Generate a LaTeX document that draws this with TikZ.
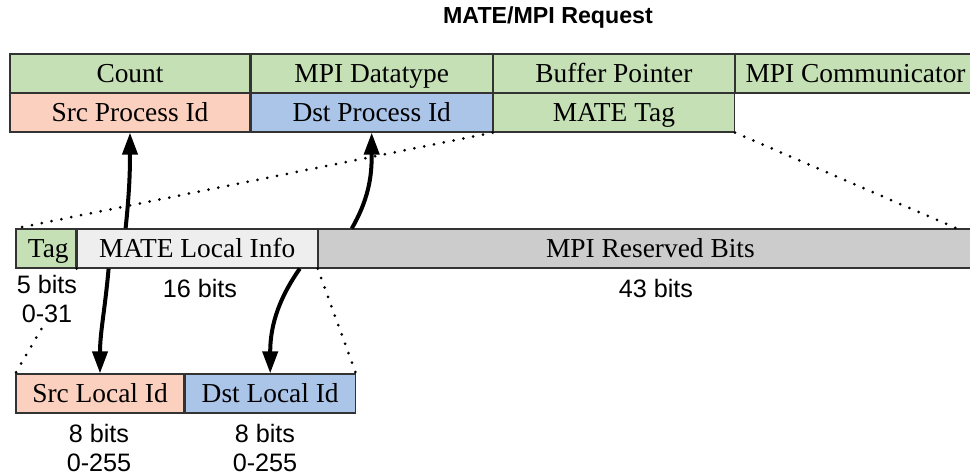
\documentclass[tikz,border=0pt]{standalone}
\usepackage{fontspec}
\setmainfont{Liberation Serif}
\setsansfont{Liberation Sans}
\usetikzlibrary{arrows.meta,chains,positioning}

\definecolor{fgreen}{HTML}{C5E0B4}
\definecolor{fpeach}{HTML}{FBD0BE}
\definecolor{fblue}{HTML}{ABC5E9}
\definecolor{flight}{HTML}{EEEEEE}
\definecolor{fgrey}{HTML}{CCCCCC}

\newcommand{\fstrut}{\rule[-3pt]{0pt}{15pt}}

\tikzset{
  field/.style={draw=black!80,line width=0.6pt,minimum height=19.5pt,inner sep=0pt,
    font=\fontsize{13.7}{16}\selectfont},
  bits/.style={font=\sffamily\fontsize{12.6}{14.5}\selectfont,align=center,inner sep=1pt},
  zoomline/.style={line width=1.5pt,dash pattern=on 0pt off 5pt,line cap=round},
  bigarrow/.style={line width=2pt,-{Triangle[length=11pt,width=7.5pt]}}
}

\begin{document}
\begin{tikzpicture}[x=0.5pt,y=-0.5pt]
\useasboundingbox (0,0) rectangle (970,476);

\node[font=\sffamily\bfseries\fontsize{11.6}{14}\selectfont] (title) at (548,18) {MATE/MPI Request};

% request fields
\begin{scope}[shift={(130,73.5)},start chain=going right,node distance=0pt]
\def\reqrow{1/120pt/fgreen/{Count},2/120.5pt/fgreen/{MPI Datatype},3/120.5pt/fgreen/{Buffer Pointer},4/120pt/fgreen/{MPI Communicator}}
\foreach \i / \w / \c / \element in \reqrow
  \node [field,on chain,fill=\c,minimum width=\w] (req\i) {\fstrut\element};
\end{scope}

\begin{scope}[shift={(130,112.5)},start chain=going right,node distance=0pt]
\def\idrow{1/120pt/fpeach/{Src Process Id},2/120.5pt/fblue/{Dst Process Id},3/120.5pt/fgreen/{MATE Tag}}
\foreach \i / \w / \c / \element in \idrow
  \node [field,on chain,fill=\c,minimum width=\w] (id\i) {\fstrut\element};
\end{scope}

% tag layout
\begin{scope}[shift={(46,248.5)},start chain=going right,node distance=0pt]
\def\tagrow{1/30pt/fgreen/{\,Tag},2/120pt/flight/{MATE Local Info},3/332pt/fgrey/{MPI Reserved Bits}}
\foreach \i / \w / \c / \element in \tagrow
  \node [field,on chain,fill=\c,minimum width=\w] (m\i) {\fstrut\element};
\end{scope}

% local info
\begin{scope}[shift={(100,393.5)},start chain=going right,node distance=0pt]
\def\locrow{1/84pt/fpeach/{Src Local Id},2/85pt/fblue/{Dst Local Id}}
\foreach \i / \w / \c / \element in \locrow
  \node [field,on chain,fill=\c,minimum width=\w] (l\i) {\fstrut\element};
\end{scope}

\coordinate (mend) at (958,229);
\draw[zoomline] (id3.south west) -- (m1.north west);
\draw[zoomline] (id3.south east) -- (mend);
\draw[zoomline] (m1.south east) -- (l1.north west);
\draw[zoomline] (m2.south east) -- (l2.north east);

\node[bits,fill=white] (tagbits) at (47,299) {5 bits\\0-31};
\node[bits] (infobits) at (200,288) {16 bits};
\node[bits] (resvbits) at (656,288) {43 bits};
\node[bits] (srcbits) at (99,448) {8 bits\\0-255};
\node[bits] (dstbits) at (265,448) {8 bits\\0-255};

\draw[bigarrow] ([xshift=24.5pt]m2.north west) to[out=84,in=-90] (id1.south);
\draw[bigarrow] ([xshift=17pt]m3.north west) to[out=60,in=-90] (id2.south);
\draw[bigarrow] ([xshift=16pt]m2.south west) to[out=-95,in=90] (l1.north);
\draw[bigarrow] ([xshift=-9pt]m2.south east) to[out=-125,in=90] (l2.north);

\end{tikzpicture}
\end{document}
